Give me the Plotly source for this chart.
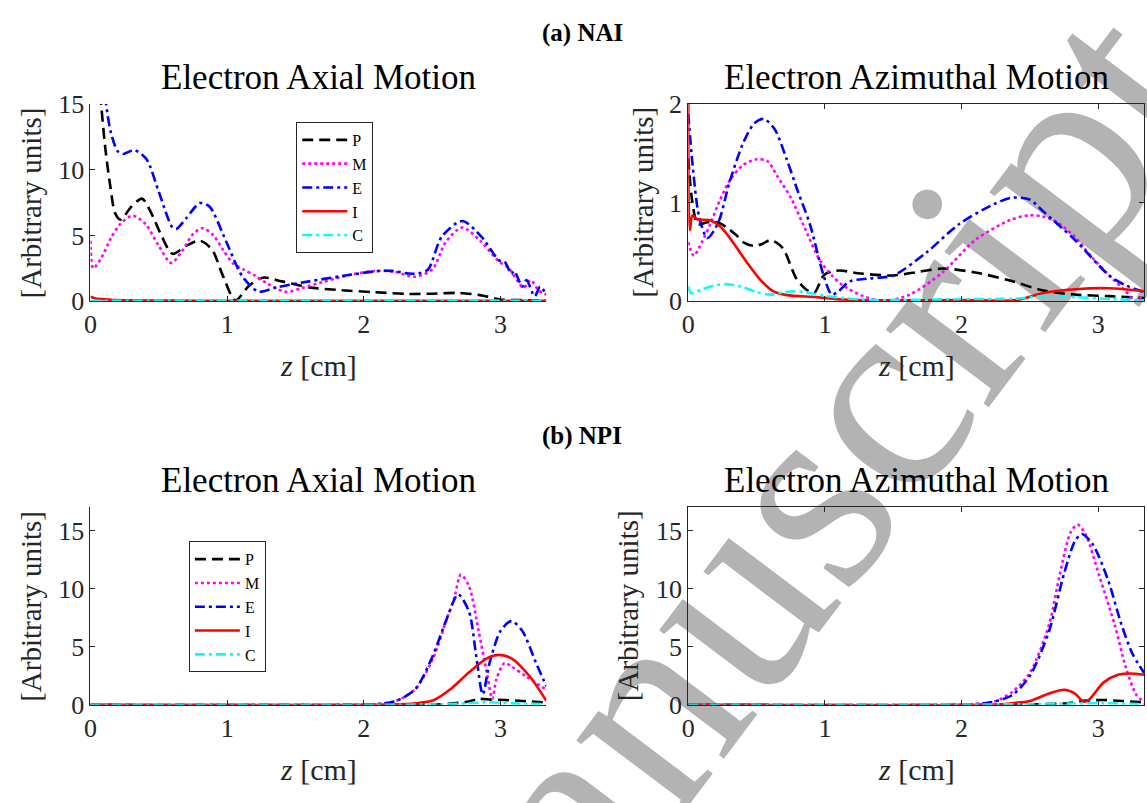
import plotly.graph_objects as go

W, H = 1147, 803
SERIF = "Liberation Serif, Times New Roman, serif"
INK = "#262626"

SERIES = ["P", "M", "E", "I", "C"]
COLORS = {"P": "#000000", "M": "#ff00ff", "E": "#0000ff", "I": "#ff0000", "C": "#00ffff"}
DASHES = {"P": "11px,6px", "M": "3px,3px", "E": "10px,4px,3px,4px",
          "I": "solid", "C": "10px,4px,3px,4px"}

Z_MAX = 3.335

# ---------------- (a) NAI : electron axial motion ----------------
a_ax_P_z = [0, 0.05, 0.078, 0.11, 0.143, 0.18, 0.22, 0.3, 0.377, 0.44, 0.51, 0.6,
            0.7, 0.8, 0.89, 0.97, 1.06, 1.16, 1.26, 1.4, 1.6, 1.8, 2.08, 2.33,
            2.5, 2.69, 2.85, 3.0, 3.15, 3.29, 3.335]
a_ax_P_v = [30, 19, 15, 11.5, 8.9, 6.7, 6.2, 7.2, 7.8, 6.8, 5.2, 3.6,
            4.2, 4.6, 3.9, 1.9, 0.05, 1.16, 1.78, 1.5, 1.04, 0.85, 0.67, 0.54,
            0.56, 0.62, 0.45, 0.12, 0.07, 0.05, 0.04]

a_ax_M_z = [0, 0.02, 0.08, 0.15, 0.22, 0.31, 0.4, 0.5, 0.59, 0.67, 0.75, 0.82,
            0.9, 0.97, 1.04, 1.12, 1.21, 1.3, 1.43, 1.55, 1.7, 1.9, 2.09, 2.22,
            2.37, 2.5, 2.6, 2.72, 2.85, 2.99, 3.06, 3.12, 3.17, 3.22, 3.28, 3.335]
a_ax_M_v = [4.6, 2.5, 3.3, 4.8, 5.9, 6.5, 5.9, 4.2, 2.9, 3.8, 5.1, 5.55,
            5.0, 3.9, 2.9, 2.4, 1.9, 1.3, 0.7, 1.0, 1.45, 2.0, 2.3, 2.25,
            1.85, 2.4, 4.5, 5.6, 4.6, 3.0, 2.5, 1.6, 1.0, 1.6, 0.8, 0.5]

a_ax_E_z = [0, 0.06, 0.114, 0.15, 0.2, 0.24, 0.32, 0.41, 0.5, 0.6, 0.63, 0.7,
            0.8, 0.87, 0.99, 1.11, 1.23, 1.36, 1.6, 1.84, 2.09, 2.2, 2.33, 2.4,
            2.47, 2.57, 2.72, 2.86, 2.99, 3.03, 3.08, 3.1, 3.16, 3.19, 3.25,
            3.29, 3.335]
a_ax_E_v = [30, 20, 15, 12.8, 11.4, 11.2, 11.5, 10.8, 8.3, 5.6, 5.5, 6.3,
            7.46, 7.2, 4.6, 1.9, 0.72, 1.04, 1.5, 1.9, 2.27, 2.3, 2.1, 2.1,
            2.4, 4.9, 6.1, 4.9, 3.1, 3.0, 2.07, 2.3, 1.1, 1.6, 0.37,
            1.1, 0.5]

a_ax_I_z = [0, 0.03, 0.08, 0.15, 0.3, 0.6, 1.0, 2.0, 3.335]
a_ax_I_v = [0.32, 0.22, 0.15, 0.1, 0.06, 0.03, 0.02, 0.01, 0.01]

a_ax_C_z = [0, 1.0, 2.0, 3.0, 3.335]
a_ax_C_v = [0.02, 0.02, 0.02, 0.02, 0.02]

# ---------------- (a) NAI : electron azimuthal motion ----------------
a_az_P_z = [0, 0.03, 0.07, 0.14, 0.21, 0.28, 0.35, 0.41, 0.48, 0.54, 0.6, 0.66,
            0.7, 0.79, 0.86, 0.92, 0.99, 1.05, 1.11, 1.26, 1.5, 1.7, 1.86, 2.1,
            2.35, 2.59, 2.83, 3.08, 3.335]
a_az_P_v = [1.45, 1.0, 0.78, 0.8, 0.8, 0.75, 0.67, 0.59, 0.56, 0.58, 0.62, 0.58,
            0.52, 0.23, 0.12, 0.08, 0.26, 0.3, 0.31, 0.28, 0.26, 0.3, 0.33, 0.29,
            0.21, 0.11, 0.065, 0.05, 0.03]

a_az_M_z = [0, 0.04, 0.1, 0.16, 0.23, 0.31, 0.4, 0.5, 0.58, 0.65, 0.75, 0.84,
            0.96, 1.05, 1.13, 1.28, 1.43, 1.62, 1.86, 2.1, 2.35, 2.49, 2.59, 2.7,
            2.83, 2.95, 3.08, 3.2, 3.27, 3.335]
a_az_M_v = [0.6, 0.46, 0.6, 0.78, 1.02, 1.24, 1.38, 1.44, 1.42, 1.27, 1.05, 0.78,
            0.42, 0.26, 0.16, 0.05, 0.0, 0.065, 0.29, 0.62, 0.82, 0.87, 0.86, 0.8,
            0.65, 0.45, 0.26, 0.1, 0.0, 0.065]

a_az_E_z = [0, 0.03, 0.08, 0.14, 0.22, 0.3, 0.4, 0.48, 0.55, 0.63, 0.72, 0.8,
            0.89, 0.99, 1.05, 1.1, 1.18, 1.33, 1.5, 1.74, 1.98, 2.23, 2.37, 2.5,
            2.59, 2.83, 3.08, 3.2, 3.335]
a_az_E_v = [1.9, 1.4, 0.85, 0.64, 0.8, 1.2, 1.6, 1.8, 1.85, 1.75, 1.44, 1.12,
            0.78, 0.26, 0.065, 0.1, 0.2, 0.23, 0.26, 0.49, 0.78, 0.98, 1.05, 1.03,
            0.92, 0.62, 0.26, 0.16, 0.09]

a_az_I_z = [0, 0.004, 0.012, 0.03, 0.066, 0.16, 0.24, 0.33, 0.43, 0.53, 0.62,
            0.72, 0.94, 1.13, 1.38, 2.0, 2.4, 2.59, 2.83, 3.08, 3.335]
a_az_I_v = [2.0, 0.9, 0.72, 0.87, 0.83, 0.82, 0.75, 0.59, 0.39, 0.21, 0.1,
            0.06, 0.04, 0.016, 0.007, 0.01, 0.01, 0.08, 0.12, 0.13, 0.1]

a_az_C_z = [0, 0.02, 0.1, 0.2, 0.28, 0.4, 0.5, 0.6, 0.7, 0.78, 0.9, 1.01,
            1.26, 1.5, 2.0, 2.4, 2.59, 2.83, 3.1, 3.335]
a_az_C_v = [0.15, 0.08, 0.12, 0.16, 0.17, 0.14, 0.09, 0.065, 0.09, 0.1, 0.08, 0.05,
            0.016, 0.01, 0.02, 0.025, 0.05, 0.04, 0.02, 0.007]

# ---------------- (b) NPI : electron axial motion ----------------
b_ax_P_z = [0, 2.5, 2.65, 2.77, 2.84, 2.93, 3.03, 3.16, 3.335]
b_ax_P_v = [0, 0.02, 0.12, 0.28, 0.5, 0.45, 0.41, 0.33, 0.2]

b_ax_M_z = [0, 2.0, 2.15, 2.25, 2.38, 2.51, 2.61, 2.66, 2.71, 2.77, 2.84, 2.9,
            2.94, 2.97, 3.03, 3.08, 3.18, 3.335]
b_ax_M_v = [0, 0.02, 0.12, 0.4, 1.4, 4.1, 7.5, 9.1, 11.2, 10.2, 6.35, 2.76,
            0.5, 2.2, 3.6, 3.3, 2.5, 1.3]

b_ax_E_z = [0, 2.0, 2.15, 2.25, 2.38, 2.5, 2.61, 2.69, 2.77, 2.82, 2.87, 2.92,
            3.0, 3.08, 3.16, 3.26, 3.335]
b_ax_E_v = [0, 0.02, 0.12, 0.4, 1.4, 4.1, 7.5, 9.5, 8.0, 4.4, 0.9, 3.6,
            6.35, 7.2, 6.35, 3.6, 1.6]

b_ax_I_z = [0, 2.2, 2.38, 2.51, 2.64, 2.77, 2.9, 2.99, 3.08, 3.21, 3.335]
b_ax_I_v = [0, 0.02, 0.14, 0.4, 1.4, 2.8, 4.0, 4.3, 4.0, 2.5, 0.35]

b_ax_C_z = [0, 2.5, 2.77, 2.9, 3.1, 3.335]
b_ax_C_v = [0, 0.03, 0.14, 0.22, 0.12, 0.05]

# ---------------- (b) NPI : electron azimuthal motion ----------------
b_az_P_z = [0, 2.5, 2.77, 2.91, 3.04, 3.17, 3.335]
b_az_P_v = [0, 0.03, 0.14, 0.36, 0.41, 0.33, 0.22]

b_az_M_z = [0, 2.0, 2.12, 2.24, 2.37, 2.5, 2.64, 2.72, 2.8, 2.85, 2.91, 3.01,
            3.12, 3.2, 3.28, 3.335]
b_az_M_v = [0, 0.02, 0.08, 0.28, 1.1, 2.76, 6.9, 11.3, 14.9, 15.5, 14.6, 11.0,
            6.9, 3.3, 0.83, 0.28]

b_az_E_z = [0, 2.0, 2.12, 2.24, 2.37, 2.5, 2.64, 2.75, 2.83, 2.88, 2.96, 3.07,
            3.17, 3.25, 3.335]
b_az_E_v = [0, 0.02, 0.08, 0.28, 0.83, 2.5, 6.35, 11.3, 14.1, 14.7, 13.8, 10.8,
            6.9, 4.4, 2.76]

b_az_I_z = [0, 2.25, 2.37, 2.5, 2.64, 2.75, 2.83, 2.89, 2.93, 3.04, 3.15, 3.23,
            3.335]
b_az_I_v = [0, 0.02, 0.14, 0.33, 0.97, 1.3, 0.97, 0.28, 0.41, 1.93, 2.6, 2.7,
            2.6]

b_az_C_z = [0, 2.5, 2.8, 3.04, 3.335]
b_az_C_v = [0, 0.05, 0.11, 0.14, 0.05]

# panel key, title, y range, y ticks, pixel box (left, right, top, bottom), boxed
PANELS = [
    ("a_ax", "Electron Axial Motion", [0, 15], [0, 5, 10, 15], (84, 542.6, 93.5, 297.8), False),
    ("a_az", "Electron Azimuthal Motion", [0, 2], [0, 1, 2], (685.5, 1144, 93.5, 297.8), True),
    ("b_ax", "Electron Axial Motion", [0, 17], [0, 5, 10, 15], (84, 542.6, 511.7, 716.7), False),
    ("b_az", "Electron Azimuthal Motion", [0, 17], [0, 5, 10, 15], (685.5, 1144, 511.7, 716.7), True),
]
YLABEL_X = [24, 639, 24, 625]
DATA = globals()


def fx(px):
    return px / W


def fy(py):
    return 1 - py / H


def label(text, x, y, size, color=INK, angle=0):
    return dict(text=text, x=fx(x), y=fy(y), xref="paper", yref="paper",
                xanchor="center", yanchor="middle", showarrow=False,
                textangle=angle, font=dict(family=SERIF, size=size, color=color))


fig = go.Figure()
annotations = []

for i, (key, title, yr, yt, box, boxed) in enumerate(PANELS):
    n = "" if i == 0 else str(i + 1)
    left, right, top, bottom = box
    legend_name = {0: "legend", 2: "legend2"}.get(i)
    for s in SERIES:
        fig.add_trace(go.Scatter(
            x=DATA[f"{key}_{s}_z"], y=DATA[f"{key}_{s}_v"],
            mode="lines", name=s,
            line=dict(color=COLORS[s], width=2.6, dash=DASHES[s],
                      shape="spline", smoothing=0.8),
            xaxis="x" + n, yaxis="y" + n,
            showlegend=legend_name is not None,
            legend=legend_name if legend_name else "legend",
            hoverinfo="skip",
        ))
    common = dict(showline=True, linecolor=INK, linewidth=1, ticks="inside",
                  ticklen=5, tickcolor=INK, tickwidth=1, showgrid=False,
                  zeroline=False, mirror="ticks" if boxed else False,
                  tickfont=dict(family=SERIF, size=26, color=INK))
    fig.update_layout(**{
        "xaxis" + n: dict(domain=[fx(left), fx(right)], range=[0, Z_MAX],
                          anchor="y" + n, tickvals=[0, 1, 2, 3], **common),
        "yaxis" + n: dict(domain=[fy(bottom), fy(top)], range=yr,
                          anchor="x" + n, tickvals=yt, **common),
    })
    cx = (left + right) / 2
    annotations.append(label(title, cx, top - 28, 35, color="#000000"))
    annotations.append(label("<i>z</i> [cm]", cx, bottom + 67, 30))
    annotations.append(label("[Arbitrary units]", YLABEL_X[i], (top + bottom) / 2, 29, angle=-90))

annotations.append(label("<b>(a) NAI</b>", 579, 20, 25, color="#000000"))
annotations.append(label("<b>(b) NPI</b>", 579, 438, 25, color="#000000"))

legend_style = dict(bgcolor="#ffffff", bordercolor=INK, borderwidth=1,
                    font=dict(family=SERIF, size=16, color="#000000"),
                    itemwidth=45, xanchor="left", yanchor="top",
                    tracegroupgap=0)

# "Accepted Manuscript" stamp, drawn beneath the axes and curves
STAMP_X, STAMP_Y = 390, 1010
stamp = dict(type="rect", xref="paper", yref="paper",
             x0=fx(STAMP_X - 10), x1=fx(STAMP_X + 10),
             y0=fy(STAMP_Y + 10), y1=fy(STAMP_Y - 10),
             line=dict(color="rgba(0,0,0,0)", width=0), fillcolor="rgba(0,0,0,0)",
             layer="below",
             label=dict(text="Accepted Manuscript", textangle=-53,
                        textposition="middle center",
                        font=dict(family=SERIF, size=281, color="#b3b3b3")))

fig.update_layout(
    width=W, height=H,
    margin=dict(l=0, r=0, t=0, b=0),
    paper_bgcolor="#ffffff", plot_bgcolor="rgba(0,0,0,0)",
    annotations=annotations,
    shapes=[stamp],
    legend=dict(x=fx(291), y=fy(112), **legend_style),
    legend2=dict(x=fx(183), y=fy(547), **legend_style),
)

fig.write_html("out.html")
